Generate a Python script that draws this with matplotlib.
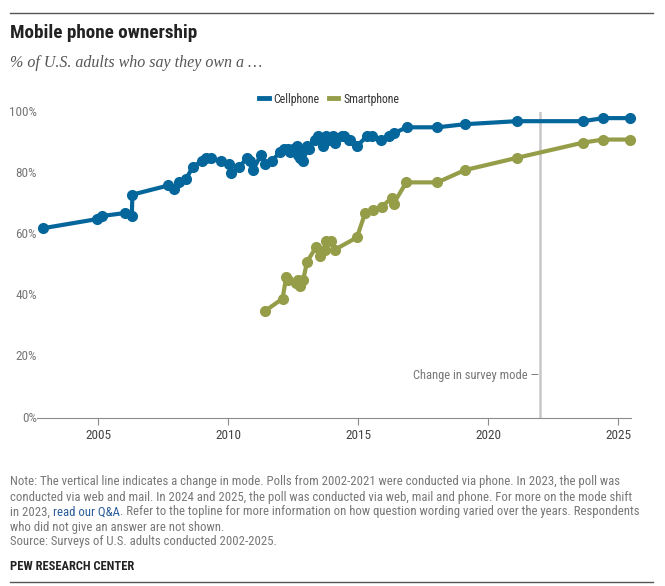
import matplotlib
matplotlib.use("Agg")
import matplotlib.pyplot as plt
from matplotlib.lines import Line2D

# values (decimal year, percent)
cell_year = [2002.86, 2004.95, 2005.14, 2006.03, 2006.29, 2006.31, 2007.70, 2007.93,
             2008.09, 2008.37, 2008.63, 2008.98, 2009.14, 2009.33, 2009.72, 2010.03,
             2010.09, 2010.43, 2010.72, 2010.83, 2010.95, 2011.26, 2011.40, 2011.68,
             2012.00, 2012.13, 2012.30, 2012.38, 2012.50, 2012.64, 2012.68, 2012.72,
             2012.76, 2012.85, 2012.89, 2013.03, 2013.10, 2013.35, 2013.45, 2013.66,
             2013.78, 2013.90, 2014.05, 2014.12, 2014.38, 2014.45, 2014.64, 2014.70,
             2014.97, 2015.33, 2015.52, 2015.87, 2016.20, 2016.36, 2016.87, 2018.05,
             2019.10, 2021.10, 2023.66, 2024.43, 2025.45]
cell_pct = [62, 65, 66, 67, 66, 73, 76, 75,
            77, 78, 82, 84, 85, 85, 84, 83,
            80, 82, 85, 84, 81, 86, 83, 84,
            87, 88, 88, 87, 88, 89, 86, 88,
            85, 87, 84, 89, 88, 91, 92, 89,
            92, 91, 92, 90, 92, 92, 91, 91,
            89, 92, 92, 91, 92, 93, 95, 95,
            96, 97, 97, 98, 98]

smart_year = [2011.42, 2012.09, 2012.23, 2012.30, 2012.62, 2012.68, 2012.75, 2012.88,
              2013.03, 2013.39, 2013.54, 2013.73, 2013.78, 2013.97, 2014.10, 2014.95,
              2015.27, 2015.57, 2015.91, 2016.30, 2016.36, 2016.85, 2018.05, 2019.10,
              2021.10, 2023.66, 2024.43, 2025.45]
smart_pct = [35, 39, 46, 45, 44, 45, 43, 45,
             51, 56, 53, 55, 58, 58, 55, 59,
             67, 68, 69, 72, 70, 77, 77, 81,
             85, 90, 91, 91]

mode_change_year = 2022.0
x_ticks = [2005, 2010, 2015, 2020, 2025]
y_ticks = [0, 20, 40, 60, 80, 100]

BLUE = "#05669b"
OLIVE = "#959d48"
SANS = ["Liberation Sans Narrow", "Roboto Condensed", "Liberation Sans", "DejaVu Sans"]
plt.rcParams["font.family"] = SANS

fig = plt.figure(figsize=(6.65, 5.86), dpi=100)
W, H = 665, 586
ax = fig.add_axes([37 / W, 1 - 418 / H, (631 - 37) / W, (418 - 112) / H])

ax.axvline(mode_change_year, color="#c8c8c8", lw=1.8, zorder=1)
ax.text(mode_change_year - 0.05, 14, "Change in survey mode \u2014", ha="right", va="center",
        fontsize=9, color="#777777")

ax.plot(cell_year, cell_pct, color=BLUE, lw=3, marker="o", ms=7, zorder=3, clip_on=False)
ax.plot(smart_year, smart_pct, color=OLIVE, lw=3, marker="o", ms=7, zorder=3, clip_on=False)

ax.set_xlim(2002.64, 2025.5)
ax.set_ylim(0, 100)
ax.set_xticks(x_ticks)
ax.set_yticks(y_ticks)
ax.set_yticklabels([f"{v}%" for v in y_ticks])
for s in ["top", "right", "left"]:
    ax.spines[s].set_visible(False)
ax.spines["bottom"].set_color("#8c8c8c")
ax.tick_params(axis="x", direction="out", length=5, color="#8c8c8c", labelsize=9.5,
               labelcolor="#444444", pad=3)
ax.tick_params(axis="y", length=0, labelsize=9.5, labelcolor="#777777", pad=0)
for lab in ax.get_yticklabels():
    lab.set_verticalalignment("center")

handles = [Line2D([], [], color=BLUE, lw=3.5), Line2D([], [], color=OLIVE, lw=3.5)]
fig.legend(handles, ["Cellphone", "Smartphone"], loc="center", bbox_to_anchor=(0.495, 1 - 99 / H),
           ncol=2, frameon=False, fontsize=8.5, handlelength=0.8, handletextpad=0.4,
           columnspacing=0.8, labelcolor="#333333")

# header
fig.add_artist(Line2D([10 / W, 653 / W], [1 - 13 / H] * 2, color="#555555", lw=1))
fig.text(10 / W, 1 - 33 / H, "Mobile phone ownership", fontsize=13.8, fontweight="bold",
         color="#222222", va="center")
fig.text(10 / W, 1 - 63 / H, "% of U.S. adults who say they own a \u2026", fontsize=11.5,
         style="italic", family=["Liberation Serif", "DejaVu Serif"], color="#555555", va="center")

# footnote
note = ["Note: The vertical line indicates a change in mode. Polls from 2002-2021 were conducted via phone. In 2023, the poll was",
        "conducted via web and mail. In 2024 and 2025, the poll was conducted via web, mail and phone. For more on the mode shift"]
note_y = [482, 497, 512, 527, 542]
fs = 9.2
grey = "#777777"
for line, y in zip(note, note_y):
    fig.text(10 / W, 1 - y / H, line, fontsize=fs, color=grey, va="center")
t1 = fig.text(10 / W, 1 - note_y[2] / H, "in 2023, ", fontsize=fs, color=grey, va="center")
t2 = ax.annotate("read our Q&A", xy=(1, 0.5), xycoords=t1, fontsize=fs, color="#2b5d9b",
                 va="center", annotation_clip=False)
ax.annotate(". Refer to the topline for more information on how question wording varied over the years. Respondents",
            xy=(1, 0.5), xycoords=t2, fontsize=fs, color=grey, va="center", annotation_clip=False)
fig.text(10 / W, 1 - note_y[3] / H, "who did not give an answer are not shown.", fontsize=fs,
         color=grey, va="center")
fig.text(10 / W, 1 - note_y[4] / H, "Source: Surveys of U.S. adults conducted 2002-2025.",
         fontsize=fs, color=grey, va="center")
fig.text(10 / W, 1 - 566 / H, "PEW RESEARCH CENTER", fontsize=9, fontweight="bold",
         color="#222222", va="center")
fig.add_artist(Line2D([10 / W, 653 / W], [1 - 582 / H] * 2, color="#555555", lw=1))

fig.savefig("out.png", dpi=100)
